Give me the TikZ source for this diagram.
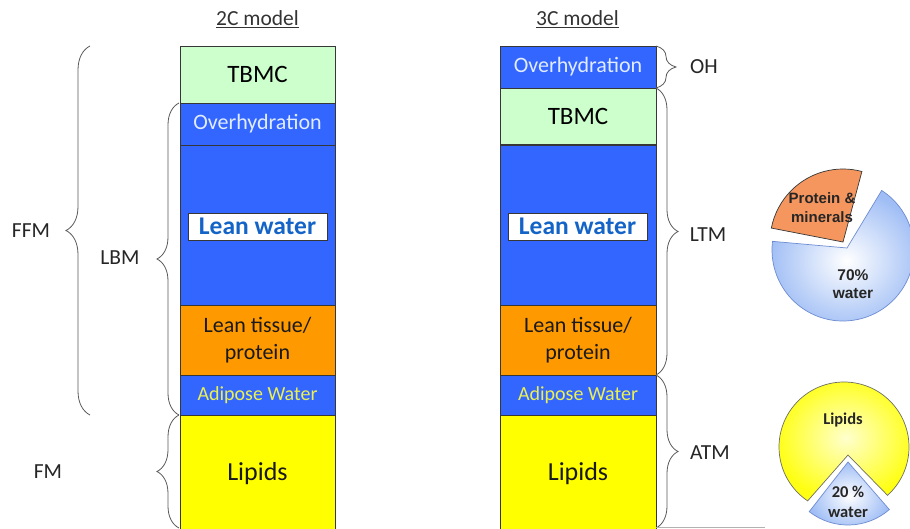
\documentclass[tikz,border=0pt]{standalone}
\usepackage{fontspec}
\setmainfont{Carlito}
\newfontfamily\arialfont{Liberation Sans}
\usetikzlibrary{decorations.pathreplacing,backgrounds}
\definecolor{cblue}{RGB}{51,102,255}
\definecolor{cgreen}{RGB}{204,255,204}
\definecolor{corange}{RGB}{255,153,0}
\definecolor{cyellow}{RGB}{255,255,0}
\definecolor{ohtext}{RGB}{225,236,255}
\definecolor{awtext}{RGB}{235,240,80}
\definecolor{lwtext}{RGB}{20,100,200}
\definecolor{edgec}{RGB}{55,55,55}
\definecolor{bracec}{RGB}{90,90,90}
\definecolor{dashc}{RGB}{90,90,90}
\definecolor{pieblue}{RGB}{160,190,245}
\definecolor{pieblueedge}{RGB}{110,140,210}
\definecolor{pieorange}{RGB}{245,150,95}
\definecolor{pieyellow}{RGB}{255,255,20}
\definecolor{pieyellowin}{RGB}{255,255,205}
\definecolor{pieedge}{RGB}{110,110,100}
\begin{document}
\begin{tikzpicture}[x=1pt,y=-1pt,
  cell/.style={draw=edgec, line width=0.8pt, inner sep=0pt, outer sep=0pt,
    minimum width=155pt, align=center, font=\fontsize{22}{27}\selectfont},
  lwbox/.style={draw=edgec, fill=white, line width=0.7pt, inner sep=0pt,
    minimum width=139pt, minimum height=27pt, text=lwtext,
    font=\bfseries\fontsize{25.5}{27}\selectfont},
  lab/.style={font=\fontsize{21.5}{24}\selectfont, text=black!85},
  ttl/.style={font=\fontsize{21.5}{24}\selectfont, text=black!80},
  dashline/.style={draw=dashc, line width=0.8pt, dash pattern=on 4pt off 3pt},
  bracestyle/.style={draw=bracec, line width=0.8pt, decorate},
  pietext/.style={font=\arialfont\bfseries\fontsize{15}{19}\selectfont, text=black!85, align=center},
  pietextB/.style={font=\bfseries\fontsize{16.5}{20}\selectfont, text=black!85, align=center}
]
\useasboundingbox (0,0) rectangle (910,529);
\fill[white] (0,0) rectangle (910,529);

% titles
\node[ttl] (t2) at (257.5,19) {\underline{2C model}};
\node[ttl] (t3) at (577.5,19) {\underline{3C model}};

% 2C column
\node[cell, fill=cgreen, minimum height=57pt, font=\fontsize{25}{30}\selectfont] (tbmcA) at (257.5,74.5) {TBMC};
\node[cell, fill=cblue, text=ohtext, minimum height=42pt] (ohA) at (257.5,124) {Overhydration};
\node[cell, fill=cblue, minimum height=160pt] (lwA) at (257.5,225) {};
\node[cell, fill=corange, text=black!90, minimum height=70pt] (ltA) at (257.5,340) {Lean tissue/\\protein};
\node[cell, fill=cblue, text=awtext, minimum height=40pt, font=\fontsize{20}{24}\selectfont] (awA) at (257.5,395) {Adipose Water};
\node[cell, fill=cyellow, text=black!90, minimum height=117pt, font=\fontsize{26}{30}\selectfont] (lipA) at (257.5,473.5) {Lipids};
\node[lwbox] (lwlabA) at (257.5,226.5) {Lean water};

% 3C column
\node[cell, fill=cblue, text=ohtext, minimum height=42pt, minimum width=156pt] (ohB) at (578,67) {Overhydration};
\node[cell, fill=cgreen, minimum height=57pt, minimum width=156pt, font=\fontsize{25}{30}\selectfont] (tbmcB) at (578,116.5) {TBMC};
\node[cell, fill=cblue, minimum height=160pt, minimum width=156pt] (lwB) at (578,225) {};
\node[cell, fill=corange, text=black!90, minimum height=70pt, minimum width=156pt] (ltB) at (578,340) {Lean tissue/\\protein};
\node[cell, fill=cblue, text=awtext, minimum height=40pt, minimum width=156pt, font=\fontsize{20}{24}\selectfont] (awB) at (578,395) {Adipose Water};
\node[cell, fill=cyellow, text=black!90, minimum height=117pt, minimum width=156pt, font=\fontsize{26}{30}\selectfont] (lipB) at (578,473.5) {Lipids};
\node[lwbox] (lwlabB) at (577.5,226.5) {Lean water};
\draw[edgec, line width=1.4pt] (tbmcB.south west) -- (tbmcB.south east);

% dashed guides
\coordinate (d1) at (73,46);
\coordinate (d3) at (73,415);
\begin{scope}[on background layer]
  \draw[dashline] (d1) -- (ohB.north west);
  \draw[dashline] (ohA.south east) -- (lwB.north west);
  \draw[dashline] (d3) -- (lipB.north west);
\end{scope}

% left braces
\coordinate (ffmB) at (90,415); \coordinate (ffmT) at (90,46);
\coordinate (lbmB) at (179,415); \coordinate (lbmT) at (179,103);
\coordinate (fmB) at (179,528); \coordinate (fmT) at (179,415);
\draw[bracestyle, decoration={brace, amplitude=24pt}] (ffmB) -- (ffmT);
\draw[bracestyle, decoration={brace, amplitude=22pt}] (lbmB) -- (lbmT);
\draw[bracestyle, decoration={brace, amplitude=22pt}] (fmB) -- (fmT);
\node[lab] (ffm) at (31,231) {FFM};
\node[lab] (lbm) at (120,258) {LBM};
\node[lab] (fm) at (48,472) {FM};

% right braces
\coordinate (ohT) at (656,46); \coordinate (ohBt) at (656,88);
\coordinate (ltmT) at (656,88); \coordinate (ltmB) at (656,375);
\coordinate (atmT) at (656,375); \coordinate (atmB) at (656,528);
\draw[bracestyle, decoration={brace, amplitude=20pt}] (ohT) -- (ohBt);
\draw[bracestyle, decoration={brace, amplitude=22pt}] (ltmT) -- (ltmB);
\draw[bracestyle, decoration={brace, amplitude=22pt}] (atmT) -- (atmB);
\node[lab] (oh) at (704,67) {OH};
\node[lab] (ltm) at (708,235) {LTM};
\node[lab] (atm) at (710,453) {ATM};

% bottom grey rule
\coordinate (g1) at (656,527.5); \coordinate (g2) at (765,527.5);
\draw[black!30, line width=0.8pt] (g1) -- (g2);

% top pie
\shadedraw[inner color=white, outer color=pieblue, draw=pieblueedge, line width=0.7pt]
  (847,248) -- ([shift={(57:71pt)}]843,250) arc[start angle=57, end angle=-187, radius=71pt] -- cycle;
\filldraw[fill=pieorange, draw=edgec, line width=0.7pt]
  (843,242) -- ([shift={(75:73pt)}]843,242) arc[start angle=75, end angle=169, radius=73pt] -- cycle;
\node[pietext] (pm) at (822,208) {Protein \&\\minerals};
\node[pietext, font=\arialfont\bfseries\fontsize{15.5}{18}\selectfont] (pw) at (853,284) {70\%\\water};

% bottom pie
\shadedraw[inner color=pieyellowin, outer color=pieyellow, draw=pieedge, line width=0.7pt]
  (848,455) -- ([shift={(-48:65pt)}]844,447) arc[start angle=-48, end angle=236, radius=65pt] -- cycle;
\shadedraw[inner color=white, outer color=pieblue, draw=pieblueedge, line width=0.7pt]
  (848,462) -- ([shift={(232:63pt)}]848,462) arc[start angle=232, end angle=311, radius=63pt] -- cycle;
\node[pietextB] (pl) at (843,420) {Lipids};
\node[pietextB] (pw2) at (848,502) {20 \%\\water};
\end{tikzpicture}
\end{document}
